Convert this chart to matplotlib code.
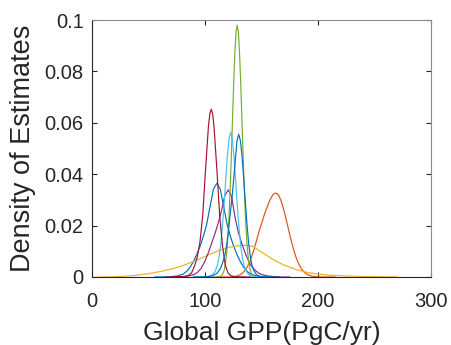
import matplotlib
matplotlib.use("Agg")
import matplotlib.pyplot as plt

plt.rcParams['font.family'] = ['Liberation Sans', 'DejaVu Sans']

# density curves (x = global GPP, y = density)
blue1_x = [55.5, 68.5, 75.5, 80.5, 83.5, 86.5, 89.5, 92.5, 95.5, 98.5, 101.5, 104.5, 107.5, 110.5,
           113.5, 116.5, 119.5, 122.5, 125.5, 128.5, 131.5, 134.5, 137.5, 140.5, 145.5, 152.5, 165.5]
blue1_y = [0, 0.0001, 0.0004, 0.0011, 0.0021, 0.0036, 0.0058, 0.0085, 0.0118, 0.0158, 0.0205, 0.0275, 0.0342, 0.0365,
           0.0342, 0.0275, 0.0205, 0.0158, 0.0118, 0.0085, 0.0058, 0.0036, 0.0021, 0.0011, 0.0004, 0.0001, 0]

orange_x = [110, 122.7, 127.7, 131.7, 134.7, 137.7, 140.2, 142.7, 145.2, 147.7, 150.2, 152.7, 155.2, 157.7, 160.2, 162.7,
            165.2, 167.7, 170.2, 172.7, 175.2, 177.7, 180.2, 182.7, 185.2, 187.7, 190.7, 194.7, 200.7, 215]
orange_y = [0, 0, 0.0003, 0.0010, 0.0022, 0.0042, 0.0065, 0.0098, 0.0135, 0.0175, 0.0210, 0.0245, 0.0275, 0.0302, 0.0321, 0.0327,
            0.0318, 0.0292, 0.0253, 0.0208, 0.0161, 0.0118, 0.0081, 0.0053, 0.0033, 0.0019, 0.0009, 0.0003, 0, 0]

yellow_x = [5, 10, 20, 30, 40, 50, 60, 65, 70, 75, 80, 85, 90, 95, 100, 105, 110, 115, 120, 124,
            128, 131.5, 135, 138.5, 142, 145, 148, 151.5, 155, 158.5, 162, 166, 170, 175, 180, 185, 190, 200, 210, 225,
            240, 255, 270]
yellow_y = [0, 0, 0.0001, 0.0003, 0.0007, 0.0013, 0.0021, 0.0026, 0.0031, 0.0037, 0.0044, 0.0052, 0.0061, 0.0070,
            0.0080, 0.0090, 0.0099, 0.0107, 0.0114, 0.0118, 0.0121, 0.0123, 0.0123, 0.0122, 0.0119, 0.0112, 0.0102,
            0.0093, 0.0083, 0.0073, 0.0063, 0.0055, 0.0046, 0.0038, 0.0030, 0.0024, 0.0018, 0.0011, 0.0007, 0.0004,
            0.0002, 0.0001, 0]

purple_x = [65, 78.6, 85.6, 90.6, 93.6, 96.6, 99.6, 102.6, 105.6, 108.6, 111.6, 114.6, 117.6, 120.6,
            123.6, 126.6, 129.6, 132.6, 135.6, 138.6, 141.6, 144.6, 147.6, 150.6, 155.6, 162.6, 168.6, 175]
purple_y = [0, 0.0001, 0.0004, 0.0010, 0.0019, 0.0034, 0.0058, 0.0090, 0.0128, 0.0166, 0.0208, 0.0258, 0.0318, 0.0339,
            0.0312, 0.0232, 0.0172, 0.0130, 0.0093, 0.0062, 0.0040, 0.0025, 0.0015, 0.0009, 0.0004, 0.0001, 0, 0]

green_x = [100, 110.5, 113.5, 115.5, 117, 118.5, 119.5, 120.5, 121.5, 122.5, 123.5, 124.5, 125.5, 126.5, 127.5, 128.5,
           129.5, 130.5, 131.5, 132.5, 133.5, 134.5, 135.5, 136.5, 137.5, 138.5, 140, 141.5, 143.5, 146.5, 155]
green_y = [0, 0, 0.0002, 0.0010, 0.0027, 0.0065, 0.0110, 0.0174, 0.0260, 0.0370, 0.0498, 0.0636, 0.0768, 0.0879, 0.0954, 0.098,
           0.0954, 0.0879, 0.0768, 0.0636, 0.0498, 0.0370, 0.0260, 0.0174, 0.0110, 0.0065, 0.0027, 0.0010, 0.0002, 0, 0]

lblue_x = [90, 99.7, 103.7, 106.7, 108.7, 110.7, 112.2, 113.7, 115.2, 116.7, 118.2, 119.7, 121.2, 122.7,
           124.2, 125.7, 127.2, 128.7, 130.2, 131.7, 133.2, 134.7, 136.7, 138.7, 141.7, 145.7, 155]
lblue_y = [0, 0.0001, 0.0003, 0.0009, 0.0020, 0.0042, 0.0072, 0.0118, 0.0185, 0.0270, 0.0370, 0.0465, 0.0537, 0.0563,
           0.0537, 0.0465, 0.0370, 0.0270, 0.0185, 0.0118, 0.0072, 0.0042, 0.0020, 0.0009, 0.0003, 0.0001, 0]

red_x = [70, 82, 85, 88, 90.5, 93, 95.5, 98, 100.5, 103, 104.3, 105.5, 106.8, 108, 110.5, 113, 115.5, 118, 120.5,
         123, 127, 140]
red_y = [0, 0.0002, 0.0006, 0.0015, 0.0040, 0.0075, 0.0135, 0.0240, 0.0419, 0.0584, 0.0636, 0.0653, 0.0634, 0.0584,
         0.0419, 0.0240, 0.0120, 0.0045, 0.0015, 0.0005, 0.0001, 0]

blue2_x = [90, 101.8, 106.8, 110.8, 113.8, 115.8, 117.8, 119.3, 120.8, 122.3, 123.8, 125.3, 126.8, 128.3, 129.8,
           131.3, 132.8, 134.3, 135.8, 137.3, 138.8, 140.3, 141.8, 143.8, 145.8, 148.8, 152.8, 165]
blue2_y = [0, 0.0001, 0.0005, 0.0015, 0.0034, 0.0058, 0.0090, 0.0128, 0.0180, 0.0245, 0.0305, 0.0375, 0.0455, 0.0530, 0.0555,
           0.0531, 0.0470, 0.0381, 0.0285, 0.0197, 0.0125, 0.0074, 0.0041, 0.0020, 0.0008, 0.0002, 0, 0]

xticks = [0, 100, 200, 300]
yticks = [0, 0.02, 0.04, 0.06, 0.08, 0.1]
yticklabels = ['0', '0.02', '0.04', '0.06', '0.08', '0.1']

fig = plt.figure(figsize=(4.52, 3.45), dpi=100)
ax = fig.add_axes([92 / 452, 1 - 277 / 345, 339 / 452, 257 / 345])

lw = 0.85
ax.plot(blue1_x, blue1_y, color='#0072BD', lw=lw)
ax.plot(orange_x, orange_y, color='#D95319', lw=lw)
ax.plot(yellow_x, yellow_y, color='#EDB120', lw=lw)
ax.plot(purple_x, purple_y, color='#7E2F8E', lw=lw)
ax.plot(green_x, green_y, color='#77AC30', lw=lw)
ax.plot(lblue_x, lblue_y, color='#4DBEEE', lw=lw)
ax.plot(red_x, red_y, color='#A2142F', lw=lw)
ax.plot(blue2_x, blue2_y, color='#0072BD', lw=lw)

ax.set_xlim(0, 300)
ax.set_ylim(0, 0.1)
ax.set_xticks(xticks)
ax.set_yticks(yticks)
ax.set_yticklabels(yticklabels)

for s in ['left', 'bottom']:
    ax.spines[s].set_color('#262626')
    ax.spines[s].set_linewidth(0.8)
for s in ['top', 'right']:
    ax.spines[s].set_color('#8c8c8c')
    ax.spines[s].set_linewidth(0.8)

ax.tick_params(direction='in', length=3.5, width=0.8, color='#262626',
               top=True, right=True, labelsize=14.5, labelcolor='#262626')
ax.tick_params(axis='x', pad=11)
ax.tick_params(axis='y', pad=6)

ax.set_xlabel('Global GPP(PgC/yr)', fontsize=19, color='#262626', labelpad=7)
ax.set_ylabel('Density of Estimates', fontsize=19.5, color='#262626')
ax.yaxis.set_label_coords(-0.165, 0.5)

fig.savefig('out.png', dpi=100)
